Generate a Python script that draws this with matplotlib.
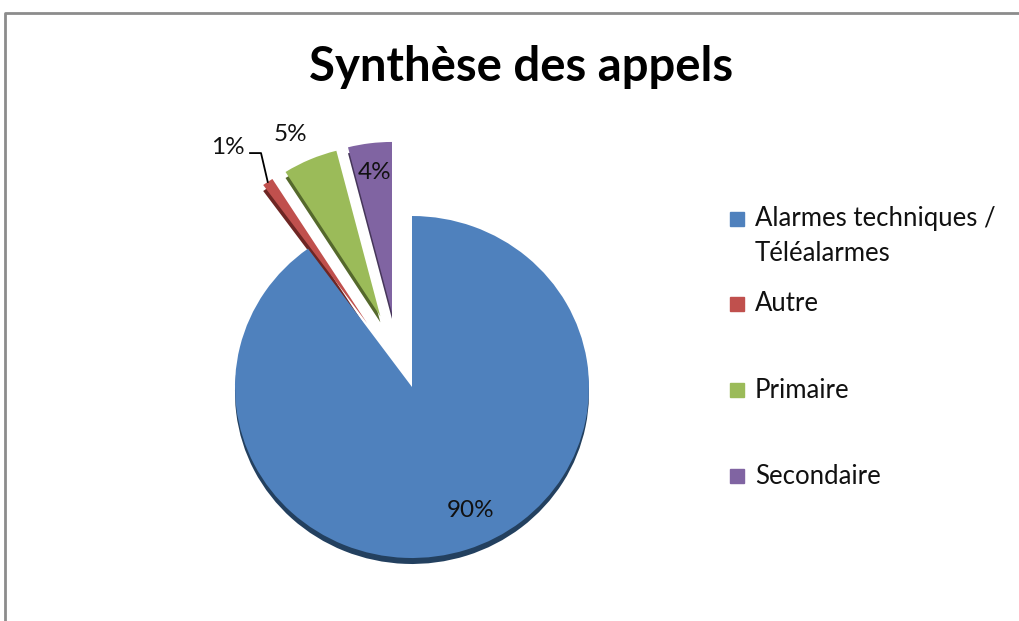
import numpy as np
import matplotlib.pyplot as plt
from matplotlib.patches import Rectangle
from matplotlib.lines import Line2D

plt.rcParams['font.family'] = ['Lato', 'DejaVu Sans']

categories = ["Alarmes techniques /\nTéléalarmes", "Autre", "Primaire", "Secondaire"]
parts = [90, 1, 5, 4]
colors = ["#4F81BD", "#C0504D", "#9BBB59", "#8064A2"]
sides = ["#23405F", "#6E2624", "#55692C", "#46365A"]
explode = [0, 0.45, 0.45, 0.44]

W, H = 1019, 621
cx, cy = 412, 387      # pie centre, px from top-left
rx, ry = 177, 171      # slightly flattened: seen in perspective

fig = plt.figure(figsize=(W / 100, H / 100), dpi=100)
ax = fig.add_axes([0, 0, 1, 1])

# darker copy a bit lower = the thickness of the 3D pie
sw, _ = ax.pie(parts, colors=sides, explode=explode, startangle=90, counterclock=False,
               center=(0, -0.035), radius=1, wedgeprops=dict(linewidth=0))
wedges, texts, autotexts = ax.pie(parts, colors=colors, explode=explode, startangle=90,
                                  counterclock=False, radius=1, autopct='%d%%',
                                  wedgeprops=dict(linewidth=0),
                                  textprops=dict(fontsize=17.5, color='#111111'))

# the purple slice sits a little more to the left
wedges[3].set_center((-0.113, 0.433))
sw[3].set_center((-0.113, 0.433 - 0.035))

ax.set_aspect('auto')
ax.set_xlim(-cx / rx, (W - cx) / rx)
ax.set_ylim(-(H - cy) / ry, cy / ry)
ax.axis('off')

label_pos = [(0.333, -0.725), (-1.04, 1.398), (-0.689, 1.474), (-0.21, 1.257)]
for t, p in zip(autotexts, label_pos):
    t.set_position(p)

# leader line from "1%" to the red slice
w = wedges[1]
tm = np.deg2rad((w.theta1 + w.theta2) / 2)
ex, ey = w.center[0] + w.r * np.cos(tm), w.center[1] + w.r * np.sin(tm)
ax.plot([-0.915, -0.853, ex], [1.368, 1.368, ey], color='black', lw=1.3)

fig.text(521 / W, 1 - 67 / H, "Synthèse des appels", fontsize=34, fontweight='bold',
         ha='center', va='center')

# legend
leg_y = [236, 304, 390, 476]
for lab, col, y in zip(categories, colors, leg_y):
    sq = y - 17 if '\n' in lab else y
    fig.add_artist(Rectangle((730 / W, 1 - (sq + 7) / H), 14 / W, 14 / H,
                             color=col, transform=fig.transFigure))
    fig.text(755 / W, 1 - y / H, lab, fontsize=18.5, va='center', ha='left',
             linespacing=1.5, color='#111111')

# chart area border
fig.add_artist(Line2D([5 / W, 5 / W, 1.01], [-0.01, 1 - 13 / H, 1 - 13 / H], color='#8c8c8c',
                      lw=2, transform=fig.transFigure))

fig.savefig('out.png', dpi=100)
